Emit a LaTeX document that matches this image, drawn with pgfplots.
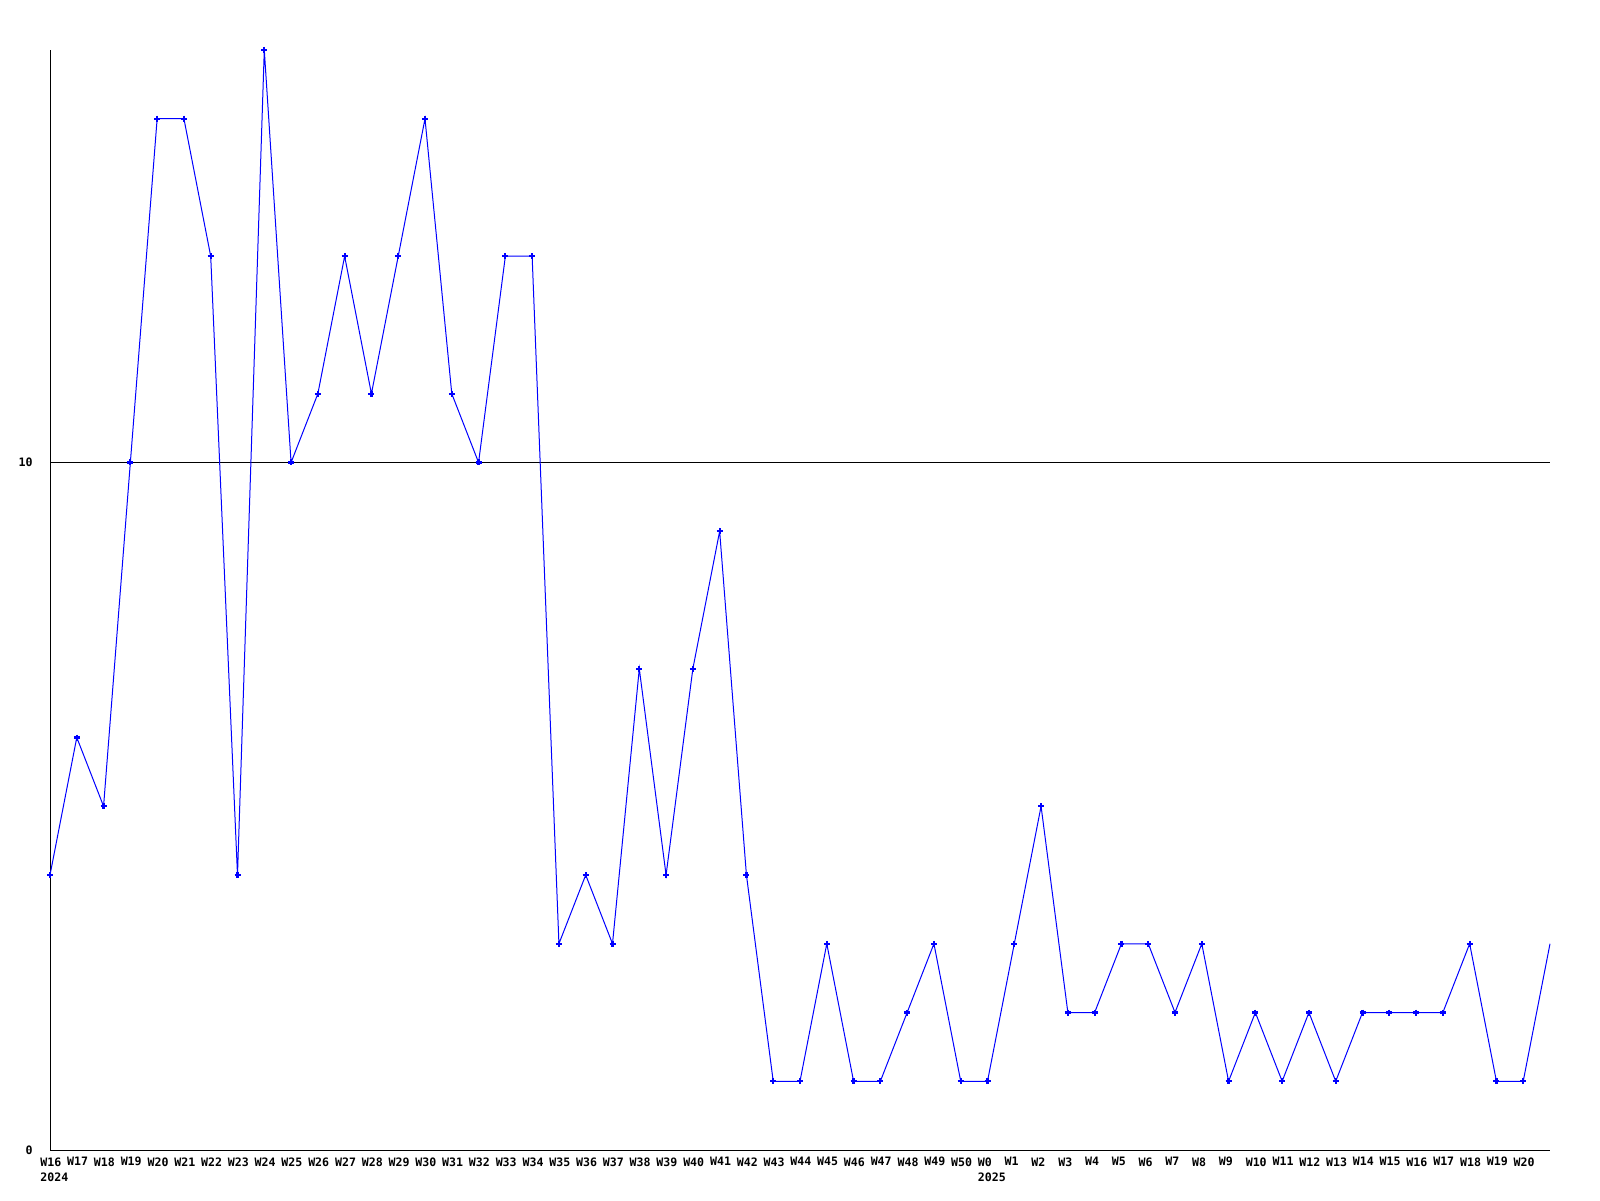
\documentclass[border=0pt]{standalone}
\usepackage{pgfplots}
\pgfplotsset{compat=1.18}
\usepackage{fontspec}
\setmainfont{DejaVu Sans Mono}
\begin{document}
\begin{tikzpicture}
\useasboundingbox (0,0) rectangle (800pt,600pt);
\begin{axis}[
  at={(25pt,25pt)}, anchor=south west,
  scale only axis, width=750pt, height=550pt,
  xmin=0, xmax=56, ymin=0, ymax=16,
  clip=false,
  axis lines*=left,
  axis line style={line width=0.5pt, black},
  major tick length=0pt,
  ytick={0,10}, yticklabels={0,10},
  ymajorgrids, grid style={black, line width=0.5pt},
  xtick={0,...,55},
  xticklabels={{W16\\2024},W17,W18,W19,W20,W21,W22,W23,W24,W25,W26,W27,W28,W29,W30,W31,W32,W33,W34,W35,W36,W37,W38,W39,W40,W41,W42,W43,W44,W45,W46,W47,W48,W49,W50,{W0\\2025},W1,W2,W3,W4,W5,W6,W7,W8,W9,W10,W11,W12,W13,W14,W15,W16,W17,W18,W19,W20},
  xticklabel style={font=\fontsize{5.8}{7.5}\selectfont\bfseries, align=left, anchor=north west, inner sep=0pt, xshift=-5pt, yshift=-3.5pt},
  yticklabel style={font=\fontsize{5.8}{7.5}\selectfont\bfseries, anchor=east, inner sep=0pt, xshift=-8.5pt},
  /pgf/number format/assume math mode=true,
]
\addplot[color={rgb,255:red,0;green,0;blue,255}, line width=0.5pt, no marks] table {
x y
0 4
1 6
2 5
3 10
4 15
5 15
6 13
7 4
8 16
9 10
10 11
11 13
12 11
13 13
14 15
15 11
16 10
17 13
18 13
19 3
20 4
21 3
22 7
23 4
24 7
25 9
26 4
27 1
28 1
29 3
30 1
31 1
32 2
33 3
34 1
35 1
36 3
37 5
38 2
39 2
40 3
41 3
42 2
43 3
44 1
45 2
46 1
47 2
48 1
49 2
50 2
51 2
52 2
53 3
54 1
55 1
56 3
};
\addplot[color={rgb,255:red,0;green,0;blue,255}, only marks, mark=+, mark size=1.5pt, mark options={line width=1.1pt}] table {
x y
0 4
1 6
2 5
3 10
4 15
5 15
6 13
7 4
8 16
9 10
10 11
11 13
12 11
13 13
14 15
15 11
16 10
17 13
18 13
19 3
20 4
21 3
22 7
23 4
24 7
25 9
26 4
27 1
28 1
29 3
30 1
31 1
32 2
33 3
34 1
35 1
36 3
37 5
38 2
39 2
40 3
41 3
42 2
43 3
44 1
45 2
46 1
47 2
48 1
49 2
50 2
51 2
52 2
53 3
54 1
55 1
};
\end{axis}
\end{tikzpicture}
\end{document}
